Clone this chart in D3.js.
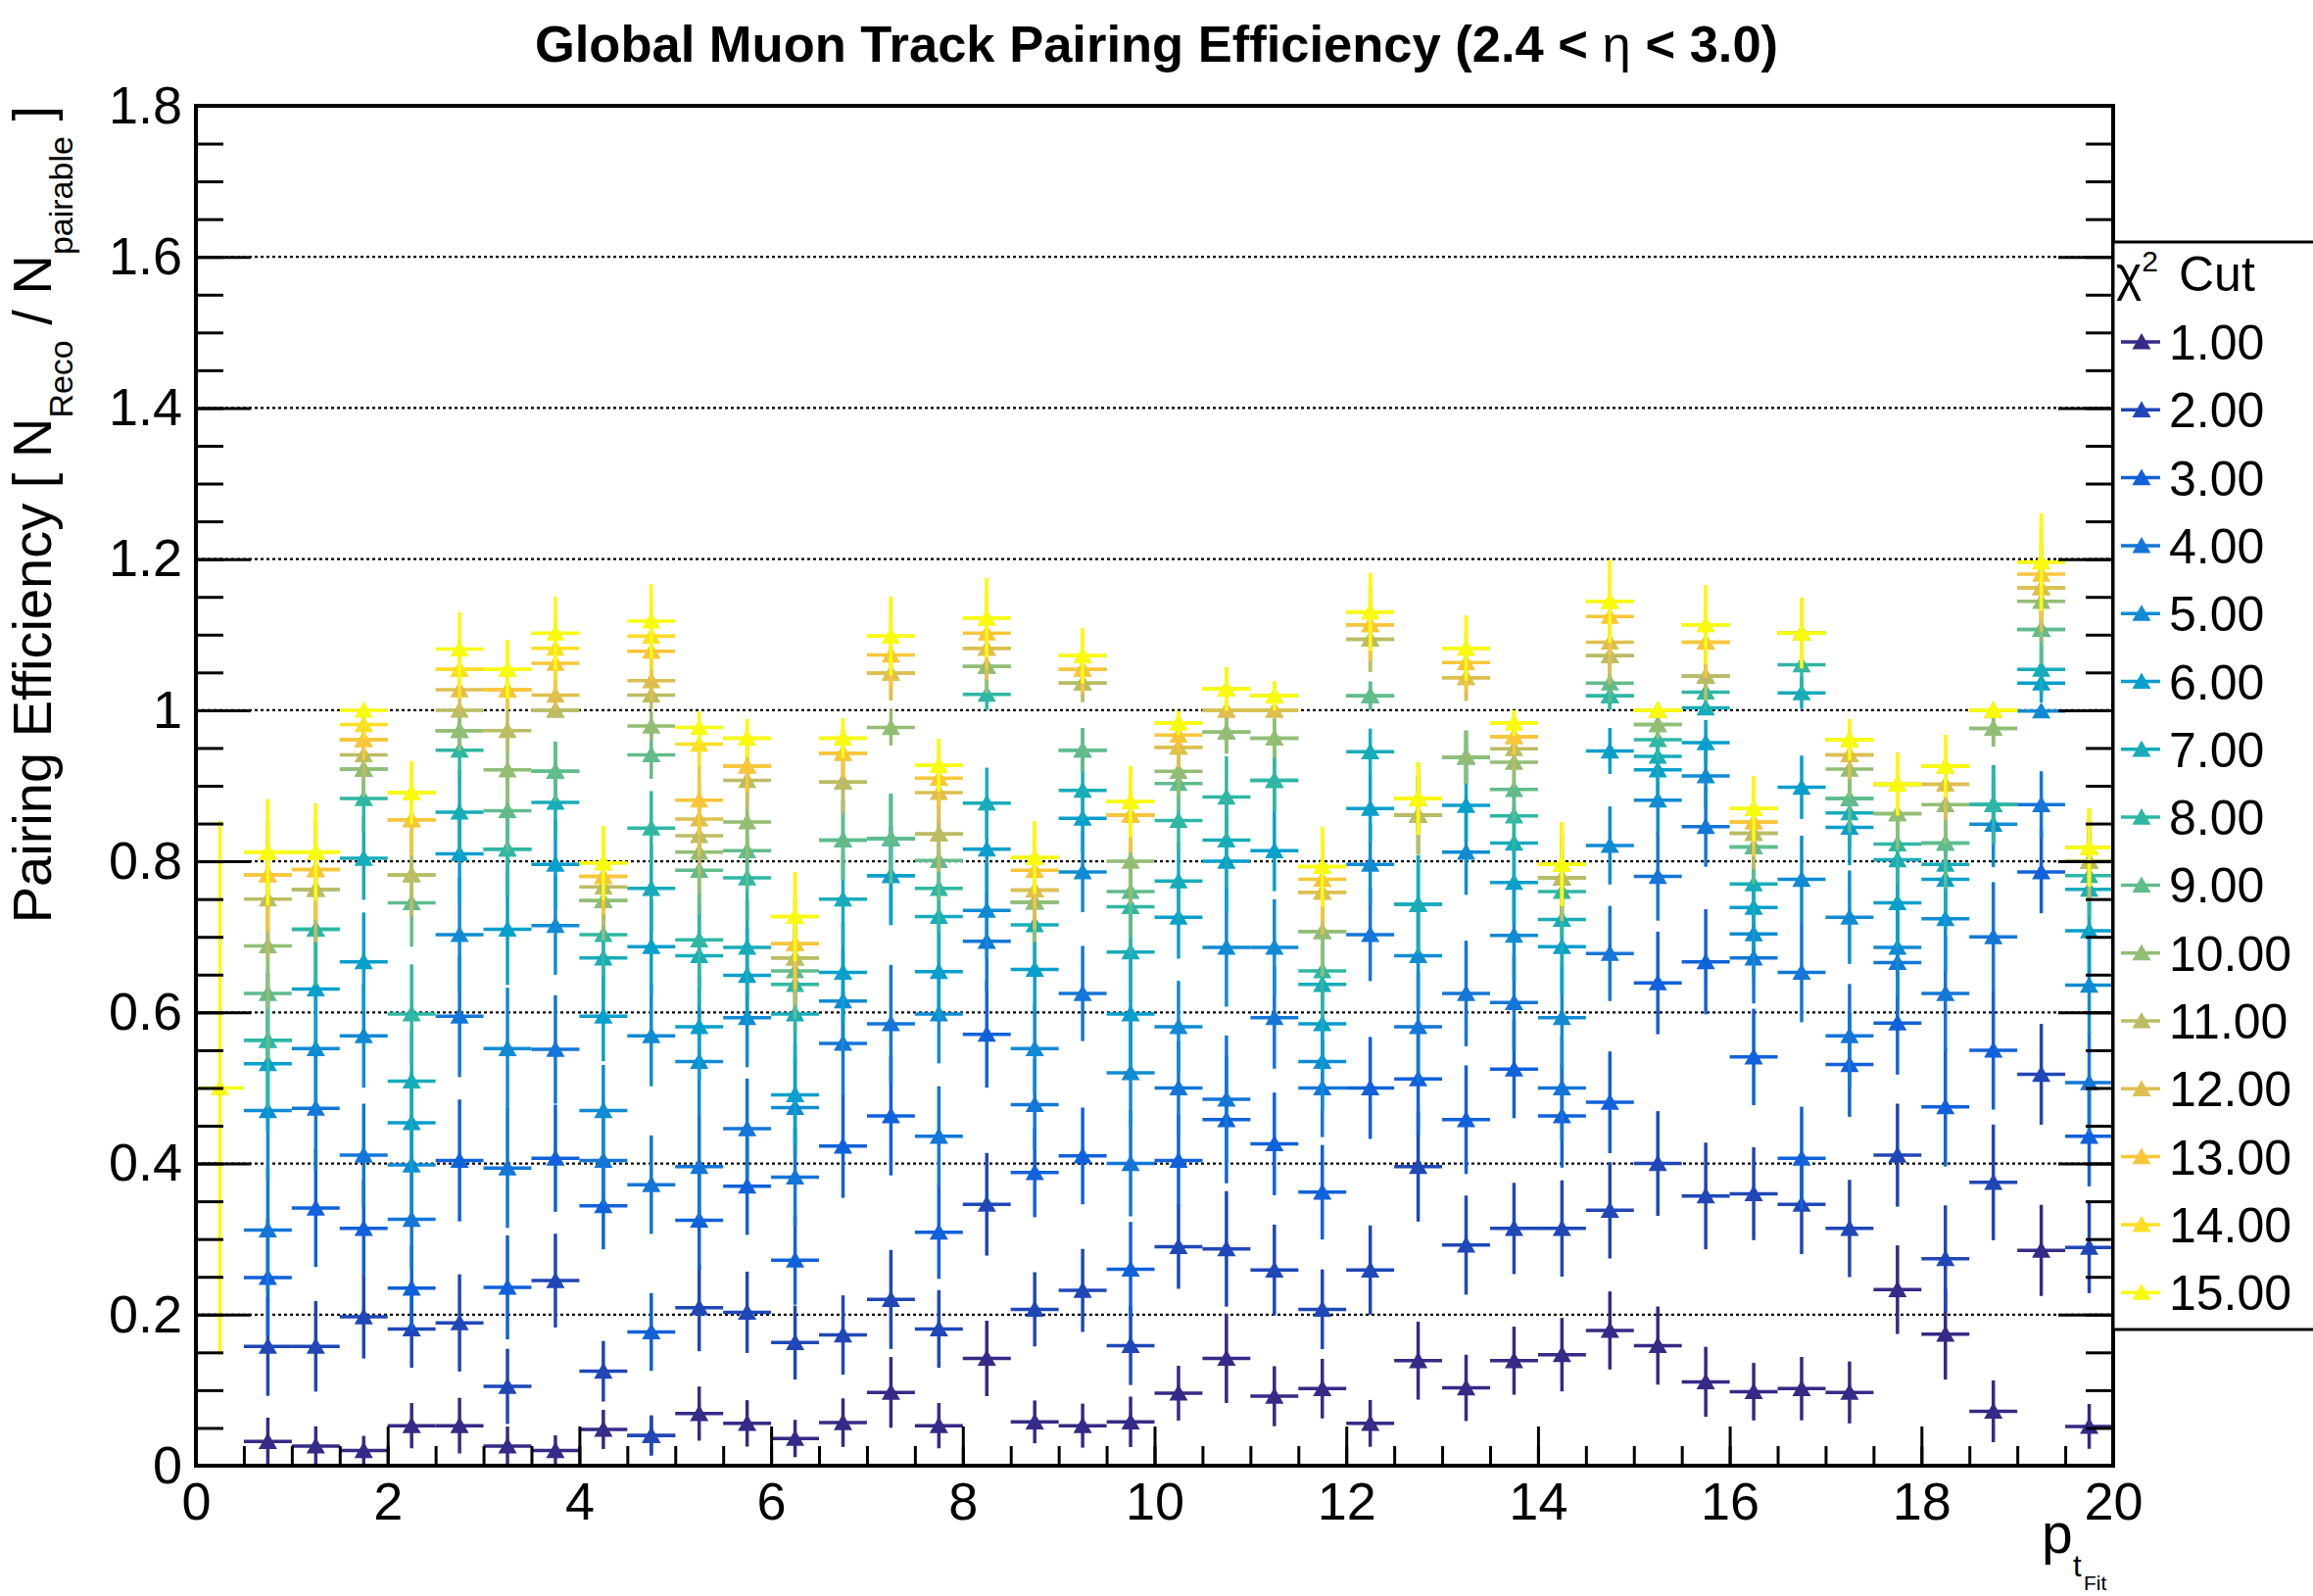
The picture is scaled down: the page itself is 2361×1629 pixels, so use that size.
<!DOCTYPE html>
<html>
<head>
<meta charset="utf-8">
<script src="https://cdnjs.cloudflare.com/ajax/libs/d3/7.8.5/d3.min.js"></script>
<style>
body { margin: 0; background: #fff; }
text { font-family: "Liberation Sans", Arial, Helvetica, sans-serif; }
</style>
</head>
<body>
<div id="chart"></div>
<script>
// pt bins (centres) and pairable tracks per bin
var ptCenters = [0.25, 0.75, 1.25, 1.75, 2.25, 2.75, 3.25, 3.75, 4.25, 4.75,
                 5.25, 5.75, 6.25, 6.75, 7.25, 7.75, 8.25, 8.75, 9.25, 9.75,
                 10.25, 10.75, 11.25, 11.75, 12.25, 12.75, 13.25, 13.75, 14.25, 14.75,
                 15.25, 15.75, 16.25, 16.75, 17.25, 17.75, 18.25, 18.75, 19.25, 19.75];
var nPairable = [2, 31, 37, 52, 56, 37, 38, 48, 68, 55, 50, 56, 57, 52, 40, 56, 49, 68, 59, 49,
                 66, 35, 53, 59, 55, 45, 48, 59, 53, 55, 50, 46, 61, 52, 52, 52, 40, 40, 56, 56];
var chi2Cuts = [1, 2, 3, 4, 5, 6, 7, 8, 9, 10, 11, 12, 13, 14, 15];

var eff_chi2_01 = [null, .032, .026, .020, .053, .053, .026, .020, .048, .040, .069, .056, .036, .057, .097, .053, .142, .058, .053, .058, .096, .142, .092, .102, .056, .139, .103, .139, .147, .179, .159, .111, .098, .102, .097, .233, .174, .072, .285, .052];
var eff_chi2_02 = [null, .158, .158, .197, .181, .189, .105, .245, .125, .040, .209, .203, .163, .173, .220, .181, .346, .207, .232, .159, .290, .287, .259, .207, .259, .396, .292, .314, .314, .338, .400, .357, .360, .346, .314, .411, .274, .375, .518, .289];
var eff_chi2_03 = [null, .249, .341, .314, .235, .404, .236, .407, .344, .177, .325, .370, .272, .423, .463, .309, .571, .388, .410, .260, .404, .458, .426, .362, .500, .512, .458, .525, .463, .481, .639, .667, .541, .407, .531, .586, .475, .550, .786, .436];
var eff_chi2_04 = [null, .312, .473, .411, .326, .595, .394, .551, .404, .372, .396, .446, .382, .559, .585, .436, .694, .478, .625, .400, .500, .485, .593, .500, .703, .581, .625, .613, .500, .678, .780, .846, .672, .653, .569, .666, .625, .700, .875, .507];
var eff_chi2_05 = [null, .470, .552, .569, .398, .703, .552, .715, .470, .569, .535, .593, .474, .615, .781, .598, .735, .552, .786, .520, .581, .686, .686, .535, .796, .675, .812, .702, .593, .821, .881, .913, .704, .776, .726, .686, .724, .849, .999, .636];
var eff_chi2_06 = [null, .532, .631, .667, .454, .810, .710, .796, .595, .687, .581, .649, .491, .653, .781, .654, .816, .657, .857, .598, .726, .800, .814, .585, .870, .743, .874, .772, .687, .946, .921, .957, .739, .898, .845, .745, .776, .875, 1.036, .708];
var eff_chi2_07 = [null, .563, .710, .804, .509, .865, .816, .878, .672, .764, .675, .686, .598, .750, .830, .727, .877, .716, .894, .680, .774, .828, .907, .637, .945, .743, .938, .824, .723, 1.019, .939, 1.003, .770, 1.023, .864, .802, .796, .875, 1.054, .763];
var eff_chi2_08 = [null, .563, .710, .883, .598, .947, .816, .919, .703, .844, .696, .778, .637, .828, .830, .764, 1.021, .746, .947, .740, .854, .885, .907, .655, 1.019, .861, .938, .860, .760, 1.019, .961, 1.024, .819, 1.060, .883, .823, .824, .875, 1.107, .781];
var eff_chi2_09 = [null, .625, .763, .922, .745, .973, .867, .919, .748, .941, .788, .814, .655, .828, .830, .801, 1.058, .746, .947, .760, .903, .971, .963, .707, 1.019, .861, .938, .895, .778, 1.036, .981, 1.045, .819, 1.102, .883, .863, .824, .976, 1.107, .800];
var eff_chi2_10 = [null, .688, .763, .922, .782, .973, .921, 1.000, .748, .979, .812, .852, .672, .905, .977, .836, 1.058, .746, 1.036, .800, .919, .971, .963, .707, 1.094, .861, .938, .931, .778, 1.072, .981, 1.045, .837, 1.102, .922, .863, .875, .976, 1.144, .800];
var eff_chi2_11 = [null, .750, .763, .941, .782, 1.000, .973, 1.000, .766, 1.020, .834, .907, .672, .905, 1.049, .836, 1.082, .762, 1.036, .861, .951, 1.000, 1.000, .759, 1.094, .861, 1.043, .949, .778, 1.072, 1.000, 1.045, .837, 1.102, .941, .902, .902, 1.000, 1.162, .800];
var eff_chi2_12 = [null, .782, .789, .961, .855, 1.027, 1.027, 1.020, .780, 1.039, .856, .926, .691, .943, 1.049, .891, 1.082, .762, 1.054, .861, .951, 1.000, 1.000, .759, 1.113, .883, 1.043, .965, .796, 1.090, 1.000, 1.090, .852, 1.102, .941, .902, .902, 1.000, 1.162, .818];
var eff_chi2_13 = [null, .782, .789, .961, .855, 1.054, 1.027, 1.062, .780, 1.078, .881, .926, .691, .943, 1.073, .910, 1.102, .788, 1.054, .861, .967, 1.028, 1.019, .776, 1.113, .883, 1.063, .965, .796, 1.124, 1.000, 1.090, .852, 1.102, .961, .902, .926, 1.000, 1.180, .818];
var eff_chi2_14 = [null, .812, .812, .981, .891, 1.054, 1.054, 1.082, .798, 1.098, .955, .963, .727, .963, 1.098, .927, 1.122, .805, 1.072, .879, .983, 1.028, 1.019, .793, 1.130, .883, 1.082, .983, .796, 1.144, 1.000, 1.113, .870, 1.102, .961, .902, .926, 1.000, 1.196, .818];
var eff_chi2_15 = [.500, .812, .812, 1.000, .891, 1.081, 1.054, 1.102, .798, 1.118, .977, .963, .727, .963, 1.098, .927, 1.122, .805, 1.072, .879, .983, 1.028, 1.019, .793, 1.130, .883, 1.082, .983, .796, 1.144, 1.000, 1.113, .870, 1.102, .961, .902, .926, 1.000, 1.196, .818];

var xTicks = [0, 2, 4, 6, 8, 10, 12, 14, 16, 18, 20];
var yTicks = [0, 0.2, 0.4, 0.6, 0.8, 1, 1.2, 1.4, 1.6, 1.8];

(function(){

    var width = 2361;
    var height = 1629;
    var margin = {top: 108, left: 200, right: 204, bottom: 133};
    var svg = d3.select("#chart").append("svg")
        .attr("width", width)
        .attr("height", height);

    var x = d3.scaleLinear().domain([0, 20]).range([margin.left, width - margin.right]);
    var y = d3.scaleLinear().domain([0, 1.8]).range([height - margin.bottom, margin.top]);

    var series = [eff_chi2_01, eff_chi2_02, eff_chi2_03, eff_chi2_04, eff_chi2_05,
                  eff_chi2_06, eff_chi2_07, eff_chi2_08, eff_chi2_09, eff_chi2_10,
                  eff_chi2_11, eff_chi2_12, eff_chi2_13, eff_chi2_14, eff_chi2_15];

    //ROOT kBird palette
    var birdStops = [0, 0.125, 0.25, 0.375, 0.5, 0.625, 0.75, 0.875, 1];
    var birdRed   = [0.2082, 0.0592, 0.0780, 0.0232, 0.1802, 0.5301, 0.8186, 0.9956, 0.9764];
    var birdGreen = [0.1664, 0.3599, 0.5041, 0.6419, 0.7178, 0.7492, 0.7328, 0.7862, 0.9832];
    var birdBlue  = [0.5293, 0.8684, 0.8385, 0.7914, 0.6425, 0.4662, 0.3499, 0.1968, 0.0539];
    var bird = d3.scaleLinear().domain(birdStops)
        .range(birdStops.map(function(d, i){
            return d3.rgb(birdRed[i]*255, birdGreen[i]*255, birdBlue[i]*255).formatHex();
        }));
    var color = function(i){ return bird(i/(chi2Cuts.length - 1)); };

    function binErr(p, n){
        return Math.sqrt(Math.abs(p*(1 - p))/n);
    }

    function tri(cx, cy, s){
        return "M" + (cx - s) + "," + (cy + 0.8*s) +
               "L" + (cx + s) + "," + (cy + 0.8*s) +
               "L" + cx + "," + (cy - 0.95*s) + "Z";
    }

    //Grid
    svg.append("g")
        .selectAll("line")
        .data(yTicks.filter(function(d){ return d > 0; }))
        .enter().append("line")
        .attr("x1", x(0)).attr("x2", x(20))
        .attr("y1", function(d){ return y(d); })
        .attr("y2", function(d){ return y(d); })
        .style("stroke", "black")
        .style("stroke-width", 2.2)
        .style("stroke-dasharray", "3,3");

    //Points
    series.forEach(function(vals, s){
        var pts = [];
        vals.forEach(function(v, i){
            if(v !== null)
                pts.push({x: ptCenters[i], v: v, e: binErr(v, nPairable[i])});
        });
        var g = svg.append("g")
            .style("stroke", color(s))
            .style("fill", color(s))
            .style("stroke-width", 3.5);
        g.selectAll(".ey")
            .data(pts).enter().append("line")
            .attr("class", "ey")
            .attr("x1", function(d){ return x(d.x); })
            .attr("x2", function(d){ return x(d.x); })
            .attr("y1", function(d){ return y(d.v - d.e); })
            .attr("y2", function(d){ return y(d.v + d.e); });
        g.selectAll(".ex")
            .data(pts).enter().append("line")
            .attr("class", "ex")
            .attr("x1", function(d){ return x(d.x - 0.25); })
            .attr("x2", function(d){ return x(d.x + 0.25); })
            .attr("y1", function(d){ return y(d.v); })
            .attr("y2", function(d){ return y(d.v); });
        g.selectAll("path")
            .data(pts).enter().append("path")
            .attr("d", function(d){ return tri(x(d.x), y(d.v), 9.5); })
            .style("stroke", "none");
    });

    //Axes
    var axisX = svg.append("g")
        .attr("transform", "translate(0," + y(0) + ")")
        .call(d3.axisBottom(x).tickValues(xTicks).tickSize(-40).tickPadding(17)
              .tickFormat(d3.format("d")));
    var minorX = svg.append("g")
        .attr("transform", "translate(0," + y(0) + ")")
        .call(d3.axisBottom(x).ticks(40).tickSize(-20).tickFormat(""));
    var axisY = svg.append("g")
        .attr("transform", "translate(" + x(0) + ",0)")
        .call(d3.axisLeft(y).tickValues(yTicks).tickSize(-56).tickPadding(14)
              .tickFormat(d3.format("~g")));
    var minorY = svg.append("g")
        .attr("transform", "translate(" + x(0) + ",0)")
        .call(d3.axisLeft(y).ticks(36).tickSize(-28).tickFormat(""));
    var axisY2 = svg.append("g")
        .attr("transform", "translate(" + x(20) + ",0)")
        .call(d3.axisRight(y).tickValues(yTicks).tickSize(-56).tickFormat(""));
    var minorY2 = svg.append("g")
        .attr("transform", "translate(" + x(20) + ",0)")
        .call(d3.axisRight(y).ticks(36).tickSize(-28).tickFormat(""));

    [axisX, minorX, axisY, minorY, axisY2, minorY2].forEach(function(a){
        a.select(".domain").remove();
        a.selectAll("line").style("stroke", "black").style("stroke-width", 3);
        a.selectAll("text")
            .style("font-family", "'Liberation Sans', Arial, sans-serif")
            .style("font-size", "54px")
            .attr("fill", "black");
    });

    //Frame
    svg.append("rect")
        .attr("x", x(0)).attr("y", y(1.8))
        .attr("width", x(20) - x(0))
        .attr("height", y(0) - y(1.8))
        .style("fill", "none")
        .style("stroke", "black")
        .style("stroke-width", 4);

    //Title
    var title = svg.append("text")
        .attr("x", width/2)
        .attr("y", 63)
        .attr("text-anchor", "middle")
        .style("font-size", "52.5px")
        .style("font-weight", "bold");
    title.append("tspan").text("Global Muon Track Pairing Efficiency (2.4 < ");
    title.append("tspan").style("font-weight", "normal").text("\u03b7");
    title.append("tspan").text(" < 3.0)");

    //Y title
    var yTitle = svg.append("text")
        .attr("transform", "translate(52," + y(1.8) + ") rotate(-90)")
        .attr("text-anchor", "end")
        .style("font-size", "56px");
    yTitle.append("tspan").text("Pairing Efficiency [ N");
    yTitle.append("tspan").attr("dy", 22).style("font-size", "34px").text("Reco");
    yTitle.append("tspan").attr("dy", -22).text(" / N");
    yTitle.append("tspan").attr("dy", 22).style("font-size", "34px").text("pairable");
    yTitle.append("tspan").attr("dy", -22).text(" ]");

    //X title
    var xTitle = svg.append("g");
    xTitle.append("text").attr("x", 2084).attr("y", 1585).style("font-size", "57px").text("p");
    xTitle.append("text").attr("x", 2116).attr("y", 1609).style("font-size", "31px").text("t");
    xTitle.append("text").attr("x", 2127).attr("y", 1623).style("font-size", "21px").text("Fit");

    //Legend
    var legend = svg.append("g");
    legend.append("rect")
        .attr("x", x(20)).attr("y", 247)
        .attr("width", 260).attr("height", 1110)
        .style("fill", "white")
        .style("stroke", "black")
        .style("stroke-width", 3);
    var head = legend.append("text")
        .attr("x", 2160).attr("y", 297)
        .style("font-size", "50px");
    head.append("tspan").text("\u03c7");
    head.append("tspan").attr("dy", -20).style("font-size", "30px").text("2");
    head.append("tspan").attr("x", 2224).attr("dy", 20).text("Cut");

    var entry = legend.selectAll(".entry")
        .data(chi2Cuts).enter().append("g")
        .attr("class", "entry")
        .attr("transform", function(d, i){ return "translate(0," + (349 + i*69.3) + ")"; });
    entry.append("line")
        .attr("x1", 2165).attr("x2", 2205)
        .attr("y1", 0).attr("y2", 0)
        .style("stroke", function(d, i){ return color(i); })
        .style("stroke-width", 3.5);
    entry.append("path")
        .attr("d", tri(2186, 0, 9.5))
        .style("fill", function(d, i){ return color(i); });
    entry.append("text")
        .attr("x", 2214).attr("y", 18)
        .style("font-size", "50px")
        .text(function(d){ return d3.format(".2f")(d); });

})();
</script>
</body>
</html>
